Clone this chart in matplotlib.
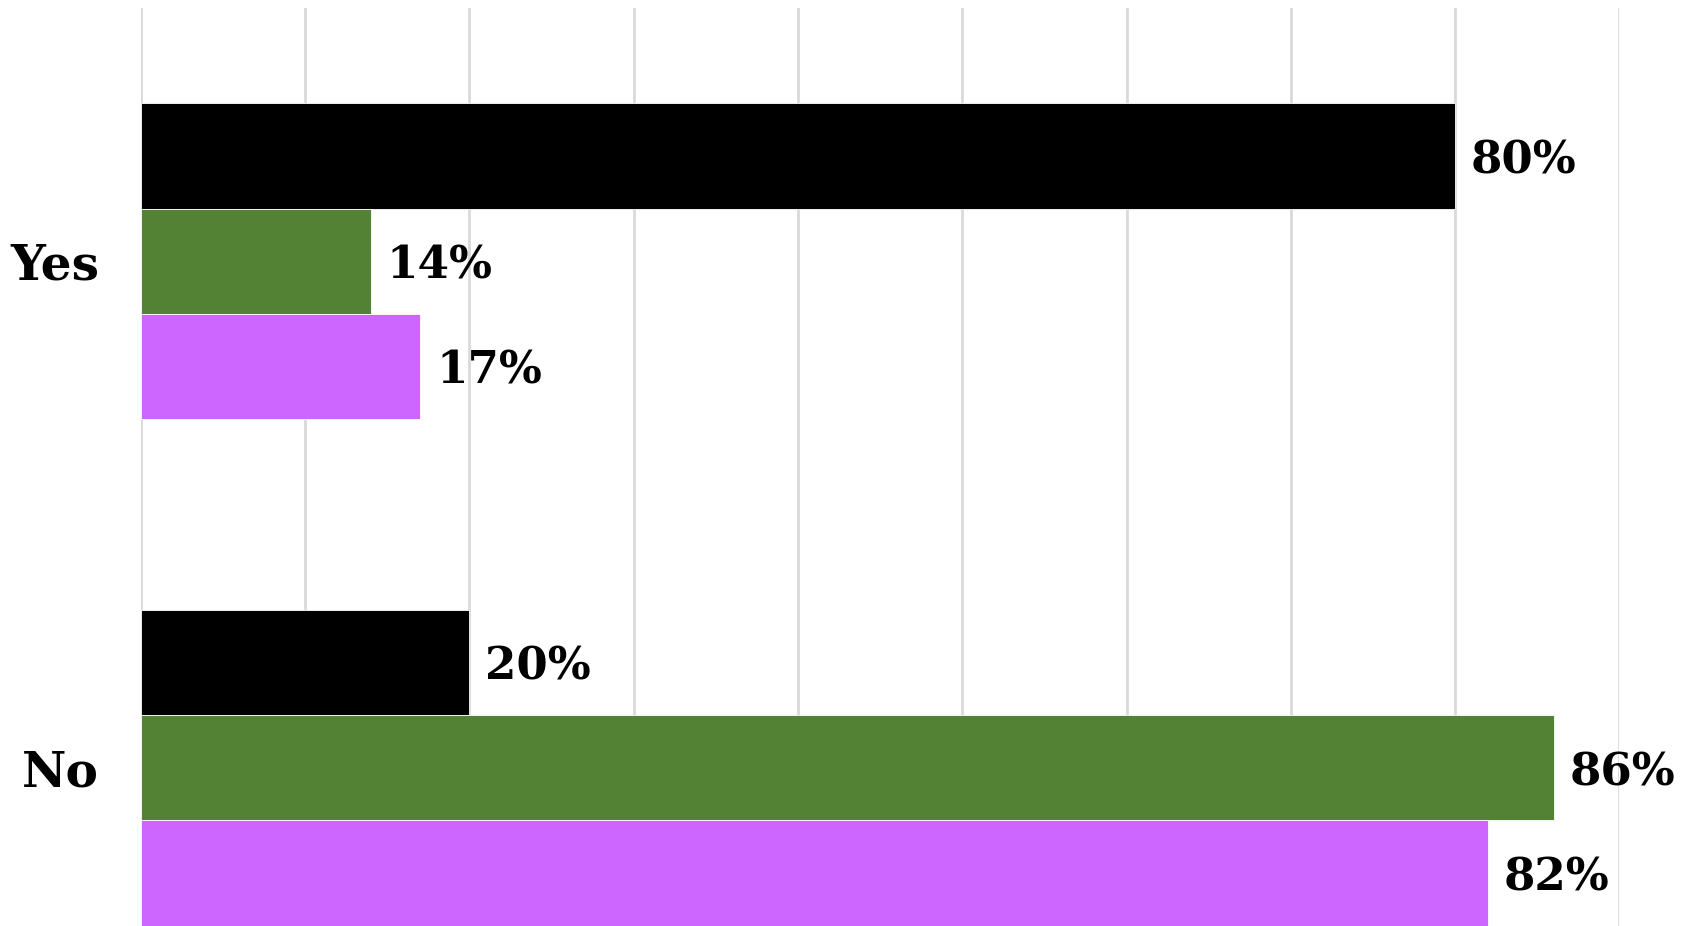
import matplotlib
matplotlib.use("Agg")
import matplotlib.pyplot as plt
import numpy as np

# Survey answers and the share of each group (percent)
categories = ["Yes", "No"]
series_black = [80, 20]
series_green = [14, 86]
series_pink = [17, 82]

colors = ["#000000", "#548235", "#cc66ff"]
series = [series_black, series_green, series_pink]

plt.rcParams["font.family"] = ["DejaVu Serif"]

fig = plt.figure(figsize=(16.85, 9.26), dpi=100)
# axes run past the bottom edge of the figure
ax = fig.add_axes([140.7 / 1685, 1 - 1021 / 926, (1619.4 - 140.7) / 1685, 1013 / 926])

y = np.arange(len(categories))
h = 0.208
offsets = [-h, 0, h]

for vals, col, off in zip(series, colors, offsets):
    bars = ax.barh(y + off, vals, height=h, color=col, edgecolor="white",
                   linewidth=0.6, zorder=3)
    for b, v in zip(bars, vals):
        ax.annotate(f"{v}%", xy=(b.get_width(), b.get_y() + b.get_height() / 2),
                    xytext=(11.5, -3.5), textcoords="offset points",
                    ha="left", va="center", fontsize=32.5, fontweight="bold",
                    color="black", zorder=4, annotation_clip=False)

ax.set_xlim(0, 90)
ax.set_ylim(1.5, -0.5)
ax.set_xticks(np.arange(0, 91, 10))
ax.xaxis.grid(True, color="#d9d9d9", linewidth=2, zorder=0)
ax.tick_params(axis="x", length=0, labelbottom=False)
ax.set_yticks(y)
ax.set_yticklabels(categories, fontsize=35, fontweight="bold")
ax.tick_params(axis="y", length=0, pad=30)
for s in ax.spines.values():
    s.set_visible(False)

fig.savefig("out.png", dpi=100, facecolor="white")
